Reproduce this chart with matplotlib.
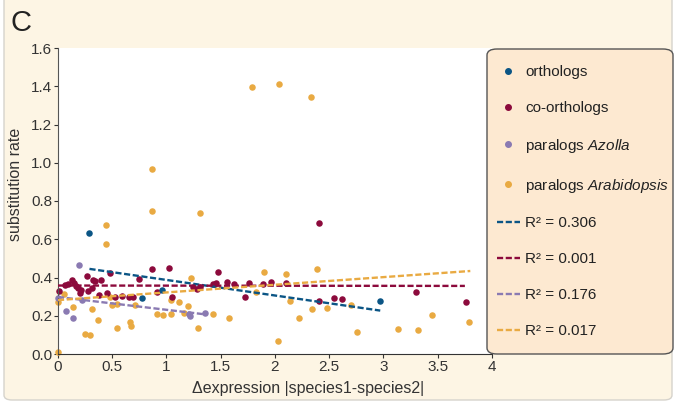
import matplotlib
matplotlib.use("Agg")
import matplotlib.pyplot as plt
from matplotlib.patches import FancyBboxPatch
from matplotlib.lines import Line2D

plt.rcParams['font.family'] = ['Liberation Sans', 'DejaVu Sans']
plt.rcParams['mathtext.fontset'] = 'custom'
plt.rcParams['mathtext.rm'] = 'Liberation Sans'
plt.rcParams['mathtext.it'] = 'Liberation Sans:italic'

# orthologs
orth_x = [0.29, 0.77, 0.96, 2.97]
orth_y = [0.635, 0.295, 0.335, 0.279]

# co-orthologs
co_x = [0.01, 0.065, 0.095, 0.126, 0.15, 0.163, 0.187, 0.203, 0.212, 0.265, 0.28,
        0.31, 0.325, 0.34, 0.38, 0.40, 0.45, 0.48, 0.525, 0.587, 0.657, 0.694, 0.746,
        0.864, 0.91, 1.023, 1.05, 1.247, 1.278, 1.31, 1.43, 1.453, 1.478, 1.555,
        1.62, 1.72, 1.76, 1.89, 1.96, 2.10, 2.405, 2.405, 2.54, 2.615, 3.30, 3.76]
co_y = [0.331, 0.36, 0.364, 0.387, 0.37, 0.356, 0.343, 0.317, 0.335, 0.406, 0.331,
        0.343, 0.385, 0.383, 0.308, 0.387, 0.32, 0.425, 0.30, 0.303, 0.30, 0.30, 0.39,
        0.442, 0.325, 0.452, 0.30, 0.352, 0.338, 0.348, 0.364, 0.369, 0.427, 0.378,
        0.364, 0.30, 0.373, 0.366, 0.377, 0.373, 0.685, 0.277, 0.293, 0.285, 0.326, 0.273]

# paralogs Azolla
azo_x = [0.0, 0.07, 0.14, 0.194, 0.22, 1.21, 1.22, 1.355]
azo_y = [0.295, 0.225, 0.188, 0.465, 0.28, 0.209, 0.2, 0.214]

# paralogs Arabidopsis
ara_x = [0.0, 0.0, 0.058, 0.14, 0.25, 0.295, 0.31, 0.37, 0.442, 0.442, 0.48, 0.495,
         0.54, 0.54, 0.664, 0.673, 0.71, 0.864, 0.864, 0.915, 0.968, 1.04, 1.04,
         1.115, 1.16, 1.195, 1.225, 1.287, 1.306, 1.425, 1.576, 1.788, 1.828, 1.9,
         2.03, 2.037, 2.10, 2.14, 2.22, 2.33, 2.34, 2.387, 2.48, 2.70, 2.76, 3.13,
         3.315, 3.45, 3.79]
ara_y = [0.012, 0.272, 0.314, 0.247, 0.106, 0.099, 0.237, 0.18, 0.575, 0.673, 0.296,
         0.254, 0.26, 0.134, 0.166, 0.146, 0.256, 0.749, 0.969, 0.21, 0.206, 0.284,
         0.207, 0.272, 0.215, 0.251, 0.396, 0.135, 0.735, 0.207, 0.189, 1.396, 0.323,
         0.43, 0.069, 1.412, 0.42, 0.279, 0.19, 1.344, 0.237, 0.443, 0.242, 0.256,
         0.116, 0.129, 0.126, 0.204, 0.169]

# trend lines
orth_fit_x, orth_fit_y = [0.29, 2.97], [0.445, 0.227]
co_fit_x, co_fit_y = [0.0, 3.75], [0.358, 0.356]
azo_fit_x, azo_fit_y = [0.0, 1.36], [0.298, 0.207]
ara_fit_x, ara_fit_y = [0.0, 3.8], [0.282, 0.434]
r2_labels = ['R² = 0.306', 'R² = 0.001', 'R² = 0.176', 'R² = 0.017']

c_orth = '#0b5585'
c_co = '#8c0a3c'
c_azo = '#8a7ab2'
c_ara = '#e9aa42'

W, H = 676, 405
fig = plt.figure(figsize=(W / 100, H / 100), dpi=100, facecolor='white')

# outer cream panel
bg = FancyBboxPatch((4 / W, 5 / H), 668 / W, 420 / H,
                    boxstyle='round,pad=0,rounding_size=0.012',
                    transform=fig.transFigure, facecolor='#fdf5e4',
                    edgecolor='#d6d3cc', linewidth=1.0, zorder=-10)
fig.patches.append(bg)

ax = fig.add_axes([58 / W, (H - 354) / H, 434 / W, 306 / H])
ax.set_facecolor('white')

dash = (0, (2.6, 1.1))
ax.plot(orth_fit_x, orth_fit_y, color=c_orth, lw=1.7, linestyle=dash, zorder=3)
ax.plot(co_fit_x, co_fit_y, color=c_co, lw=1.7, linestyle=dash, zorder=3)
ax.plot(azo_fit_x, azo_fit_y, color=c_azo, lw=1.7, linestyle=dash, zorder=3)
ax.plot(ara_fit_x, ara_fit_y, color=c_ara, lw=1.7, linestyle=dash, zorder=3)

ms = 22
ax.scatter(ara_x, ara_y, s=ms, color=c_ara, lw=0, zorder=2, clip_on=False)
ax.scatter(azo_x, azo_y, s=ms, color=c_azo, lw=0, zorder=2, clip_on=False)
ax.scatter(co_x, co_y, s=ms, color=c_co, lw=0, zorder=2, clip_on=False)
ax.scatter(orth_x, orth_y, s=ms, color=c_orth, lw=0, zorder=2, clip_on=False)

ax.set_xlim(0, 4)
ax.set_ylim(0, 1.6)
ax.set_xticks([0, 0.5, 1, 1.5, 2, 2.5, 3, 3.5, 4])
ax.set_xticklabels(['0', '0.5', '1', '1.5', '2', '2.5', '3', '3.5', '4'])
ax.set_yticks([0, 0.2, 0.4, 0.6, 0.8, 1.0, 1.2, 1.4, 1.6])
ax.set_yticklabels(['0.0', '0.2', '0.4', '0.6', '0.8', '1.0', '1.2', '1.4', '1.6'])
ax.tick_params(labelsize=11, colors='#333333', length=3, width=0.8, pad=1)
for s in ['top', 'right']:
    ax.spines[s].set_visible(False)
ax.spines['left'].set_color('#555555')
ax.spines['bottom'].set_color('#333333')

ax.set_xlabel('Δexpression |species1-species2|', fontsize=11.5, color='#333333')
ax.xaxis.set_label_coords((308 - 58) / 434, (354 - 381) / 306)
ax.set_ylabel('substitution rate', fontsize=11.5, color='#333333')
ax.yaxis.set_label_coords((23 - 58) / 434, (354 - 184) / 306)

fig.text(10 / W, 1 - 23 / H, 'C', fontsize=21, color='#222222', va='center', ha='left')

# legend box
box = FancyBboxPatch((487 / W, (H - 354) / H), 186 / W, 305 / H,
                     boxstyle='round,pad=0,rounding_size=0.015',
                     transform=fig.transFigure, facecolor='#fde9d1',
                     edgecolor='#555555', linewidth=1.0, zorder=4)
fig.patches.append(box)

handles = [
    Line2D([], [], marker='o', ls='none', color=c_orth, markersize=4),
    Line2D([], [], marker='o', ls='none', color=c_co, markersize=4),
    Line2D([], [], marker='o', ls='none', color=c_azo, markersize=4),
    Line2D([], [], marker='o', ls='none', color=c_ara, markersize=4),
    Line2D([], [], color=c_orth, lw=1.7, linestyle=dash),
    Line2D([], [], color=c_co, lw=1.7, linestyle=dash),
    Line2D([], [], color=c_azo, lw=1.7, linestyle=dash),
    Line2D([], [], color=c_ara, lw=1.7, linestyle=dash),
]
labels = ['orthologs', 'co-orthologs', 'paralogs $\\mathit{Azolla}$',
          'paralogs $\\mathit{Arabidopsis}$'] + r2_labels
leg = fig.legend(handles, labels, loc='upper left',
                 bbox_to_anchor=(497 / W, 1 - 65 / H), frameon=False,
                 fontsize=11, labelspacing=1.43, handlelength=1.5,
                 handletextpad=0.35, borderpad=0, borderaxespad=0)
leg.set_zorder(6)
for t in leg.get_texts():
    t.set_color('#222222')

fig.savefig('out.png', dpi=100, facecolor=fig.get_facecolor())
